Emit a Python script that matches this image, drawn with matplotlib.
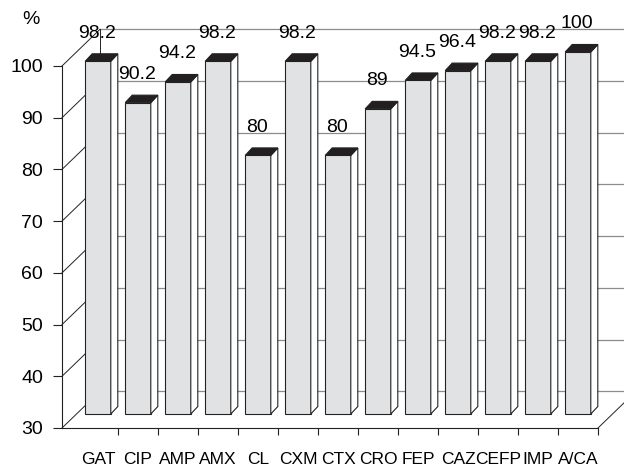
#! /usr/bin/env python
# -*- coding: utf-8 -*-

import numpy as np
import matplotlib
matplotlib.use("Agg")
import matplotlib.pyplot as plt
from matplotlib.patches import Polygon

# data
drugs = ["GAT", "CIP", "AMP", "AMX", "CL", "CXM", "CTX",
         "CRO", "FEP", "CAZ", "CEFP", "IMP", "A/CA"]
pct = [98.2, 90.2, 94.2, 98.2, 80, 98.2, 80,
       89, 94.5, 96.4, 98.2, 98.2, 100]
pct_labels = ["98.2", "90.2", "94.2", "98.2", "80", "98.2", "80",
              "89", "94.5", "96.4", "98.2", "98.2", "100"]
yticks = [30, 40, 50, 60, 70, 80, 90, 100]

# fake 3d geometry (data units)
X0, X1 = -0.9, 12.5      # front floor edge
Y0, Y1 = 30, 100
DX, DY = 0.95, 7.1       # wall depth
BAR_LIFT = 2.71          # bars sit a bit back on the floor
BAR_W = 0.64
BDX, BDY = 0.175, 1.45   # bar depth

LINE = "#222222"
GRID = "#8c8c8c"
FACE = "#e1e2e4"
TOP = "#231f20"


def init_plt():
    plt.rcParams["font.family"] = ["Liberation Sans", "DejaVu Sans"]
    plt.rcParams["font.size"] = 14
    fig = plt.figure(figsize=(6.24, 4.70), dpi=100)
    ax = fig.add_axes([62 / 624, 42 / 470, 536 / 624, 362 / 470])
    ax.set_xlim(X0, X1)
    ax.set_ylim(Y0, Y1)
    for s in ["top", "right"]:
        ax.spines[s].set_visible(False)
    for s in ["left", "bottom"]:
        ax.spines[s].set_color(LINE)
        ax.spines[s].set_linewidth(0.8)
    ax.patch.set_visible(False)
    return fig, ax


def draw_walls(ax):
    kw = dict(color=LINE, lw=0.7, clip_on=False, zorder=1)
    for v in yticks:
        ax.plot([X0, X0 + DX], [v, v + DY], **kw)
        ax.plot([X0 + DX, X1 + DX + 1], [v + DY, v + DY],
                color=GRID, lw=0.9, clip_on=False, zorder=0.5)
    ax.plot([X0 + DX, X0 + DX], [Y0 + DY, Y1 + DY], **kw)
    ax.plot([X1, X1 + DX], [Y0, Y0 + DY], **kw)


def draw_bars(ax):
    x = np.arange(len(drugs))
    base = Y0 + BAR_LIFT
    hw = BAR_W / 2
    for i, v in zip(x, pct):
        top = v + BAR_LIFT
        front = [(i - hw, base), (i + hw, base), (i + hw, top), (i - hw, top)]
        side = [(i + hw, base), (i + hw + BDX, base + BDY),
                (i + hw + BDX, top + BDY), (i + hw, top)]
        lid = [(i - hw, top), (i + hw, top),
               (i + hw + BDX, top + BDY), (i - hw + BDX, top + BDY)]
        for pts, fc in [(front, FACE), (side, "white"), (lid, TOP)]:
            ax.add_patch(Polygon(pts, closed=True, fc=fc, ec=LINE, lw=0.8,
                                 clip_on=False, zorder=2))
    for i, v, lab in zip(x, pct, pct_labels):
        ax.annotate(lab, (i, v + BAR_LIFT), xytext=(-1, 28),
                    textcoords="offset pixels", ha="center", va="center",
                    fontsize=14, zorder=3, annotation_clip=False)


def main():
    fig, ax = init_plt()
    draw_walls(ax)
    draw_bars(ax)

    ax.set_yticks(yticks)
    ax.set_yticklabels([str(t) for t in yticks])
    ax.tick_params(axis="y", direction="out", length=6.5, width=0.8,
                   color=LINE, pad=7, labelsize=14)

    ax.set_xticks(np.arange(len(drugs)))
    ax.set_xticklabels(drugs, family=["Liberation Sans Narrow", "Liberation Sans"],
                       fontsize=12.5)
    ax.set_xticks(np.arange(len(drugs)) + 0.5, minor=True)
    ax.tick_params(axis="x", which="major", length=0, pad=17)
    ax.tick_params(axis="x", which="minor", direction="out", length=5,
                   width=0.8, color=LINE)

    fig.text(31 / 624, 1 - 20 / 470, "%", ha="center", va="center", fontsize=14)

    fig.savefig("out.png", dpi=100)


if __name__ == "__main__":
    main()
